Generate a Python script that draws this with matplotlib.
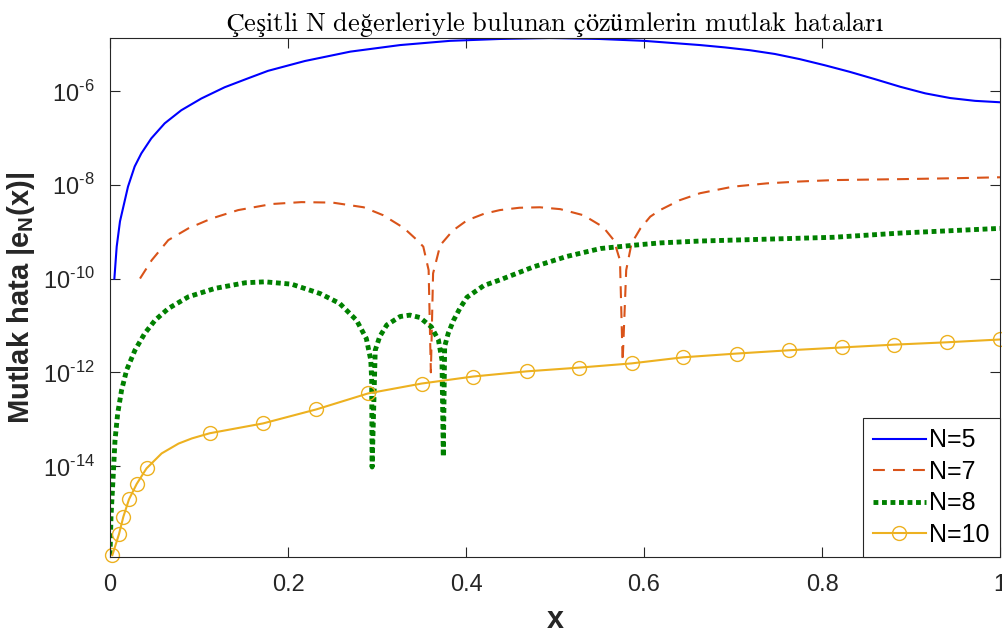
import numpy as np
import matplotlib
matplotlib.use('Agg')
import matplotlib.pyplot as plt
from matplotlib.lines import Line2D

plt.rcParams['font.family'] = ['Liberation Sans', 'DejaVu Sans']
plt.rcParams['mathtext.fontset'] = 'custom'
plt.rcParams['mathtext.rm'] = 'Liberation Sans'
plt.rcParams['mathtext.bf'] = 'Liberation Sans:bold'

# values (y given as log10 of the error)
n5_x = [0.0049, 0.0075, 0.0112, 0.0146, 0.0202, 0.0277, 0.0352, 0.0464, 0.0614,
        0.0801, 0.1026, 0.1288, 0.155, 0.1775, 0.219, 0.27, 0.326, 0.382, 0.438,
        0.494, 0.55, 0.60, 0.663, 0.691, 0.719, 0.747, 0.775, 0.803, 0.831,
        0.860, 0.888, 0.916, 0.944, 0.972, 1.0]
n5_log = [-10.0, -9.32, -8.78, -8.50, -8.04, -7.61, -7.33, -7.01, -6.69,
          -6.41, -6.16, -5.92, -5.73, -5.57, -5.36, -5.16, -5.02, -4.93, -4.89,
          -4.87, -4.89, -4.93, -5.02, -5.07, -5.13, -5.21, -5.32, -5.45, -5.59,
          -5.75, -5.91, -6.05, -6.15, -6.21, -6.24]

n7_x = [0.0337, 0.0468, 0.0655, 0.088, 0.114, 0.144, 0.182, 0.215, 0.25, 0.285,
        0.307, 0.33, 0.345, 0.352, 0.358, 0.3605,
        0.363, 0.371, 0.385, 0.401, 0.42, 0.438, 0.46, 0.483, 0.506, 0.532, 0.554,
        0.566, 0.573, 0.576,
        0.580, 0.586, 0.596, 0.607, 0.618, 0.64, 0.663, 0.70, 0.738, 0.775, 0.813,
        0.888, 0.95, 1.0]
n7_log = [-10.0, -9.61, -9.18, -8.93, -8.72, -8.54, -8.41, -8.37, -8.38, -8.48,
          -8.65, -8.92, -9.18, -9.32, -9.82, -12.0,
          -9.89, -9.29, -8.98, -8.76, -8.62, -8.54, -8.49, -8.48, -8.52, -8.65, -8.90,
          -9.18, -9.61, -11.77,
          -9.82, -9.25, -8.93, -8.68, -8.54, -8.33, -8.18, -8.04, -7.97, -7.93, -7.90,
          -7.88, -7.86, -7.84]

n8_x = [0.0, 0.0011, 0.0037, 0.0056, 0.0086, 0.013, 0.0187, 0.028, 0.039, 0.0506,
        0.0655, 0.088, 0.118, 0.152, 0.174, 0.204, 0.236, 0.258, 0.277, 0.288,
        0.293, 0.294, 0.2945,
        0.298, 0.303, 0.311, 0.326, 0.337, 0.348, 0.361, 0.369, 0.373, 0.3745,
        0.376, 0.380, 0.386, 0.393, 0.401, 0.42, 0.438, 0.476, 0.513, 0.551, 0.588,
        0.618, 0.663, 0.738, 0.813, 0.888, 1.0]
n8_log = [-15.9, -15.08, -14.16, -13.45, -12.88, -12.38, -11.95, -11.53, -11.17, -10.89,
          -10.64, -10.39, -10.21, -10.09, -10.07, -10.12, -10.32, -10.53, -10.89, -11.28,
          -11.74, -12.17, -14.02,
          -11.53, -11.24, -10.99, -10.81, -10.78, -10.83, -11.03, -11.31, -11.74, -13.80,
          -11.45, -11.17, -10.89, -10.64, -10.40, -10.15, -10.03, -9.75, -9.53, -9.36, -9.29,
          -9.24, -9.20, -9.16, -9.12, -9.03, -8.93]

n10_x = [0.0026, 0.0101, 0.015, 0.0213, 0.030, 0.041, 0.058, 0.077, 0.092, 0.112,
         0.172, 0.232, 0.29, 0.35, 0.408, 0.468, 0.527, 0.586, 0.644, 0.704,
         0.763, 0.822, 0.881, 0.940, 1.0]
n10_log = [-15.9, -15.45, -15.08, -14.71, -14.38, -14.05, -13.73, -13.52, -13.41, -13.30,
           -13.09, -12.79, -12.45, -12.24, -12.09, -11.98, -11.90, -11.81, -11.68, -11.60,
           -11.53, -11.47, -11.41, -11.36, -11.30]
n10_marks = [0, 1, 2, 3, 4, 5, 9, 10, 11, 12, 13, 14, 15, 16, 17, 18, 19, 20, 21, 22, 23, 24]

labels = ['N=5', 'N=7', 'N=8', 'N=10']
xticks = [0, 0.2, 0.4, 0.6, 0.8, 1]
xticklabels = ['0', '0.2', '0.4', '0.6', '0.8', '1']
ytick_exp = [-14, -12, -10, -8, -6]

c_blue = '#0000FF'
c_orange = '#D95319'
c_green = '#008000'
c_yellow = '#EDB120'
axc = '#262626'

fig = plt.figure(figsize=(10.02, 6.4), dpi=100)
ax = fig.add_axes([0.1098, 0.1297, 0.8882, 0.8109])

l5, = ax.plot(n5_x, np.power(10.0, n5_log), color=c_blue, lw=1.5)
l7, = ax.plot(n7_x, np.power(10.0, n7_log), color=c_orange, lw=1.5,
              linestyle=(0, (5.7, 3.9)))
l8, = ax.plot(n8_x, np.power(10.0, n8_log), color=c_green, lw=3.5,
              linestyle=(0, (1, 0.75)), dash_capstyle='butt')
ax.plot(n10_x, np.power(10.0, n10_log), color=c_yellow, lw=1.5, marker='o',
        markersize=10, markerfacecolor='none', markeredgewidth=1.0,
        markevery=n10_marks, clip_on=False)
l10 = Line2D([], [], color=c_yellow, lw=1.5, marker='o', markersize=10,
             markerfacecolor='none', markeredgewidth=1.0)

ax.set_yscale('log')
ax.set_xlim(0, 1)
ax.set_ylim(1.15e-16, 1.35e-5)
ax.set_xticks(xticks)
ax.set_xticklabels(xticklabels)
ax.set_yticks([10.0 ** e for e in ytick_exp])
ax.set_yticklabels(['$10^{\\text{-}%d}$' % -e for e in ytick_exp])
ax.minorticks_off()
ax.tick_params(direction='in', length=7, width=0.8, top=True, right=True,
               labelsize=17, colors=axc)
ax.tick_params(axis='x', pad=12)
ax.tick_params(axis='y', pad=11)
for s in ax.spines.values():
    s.set_color(axc)
    s.set_linewidth(0.8)

ax.set_xlabel('x', fontsize=22, fontweight='bold', color=axc, labelpad=7)
ax.set_ylabel('Mutlak hata |e$_\\mathbf{N}$(x)|', fontsize=21, fontweight='bold',
              color=axc, labelpad=4)
ax.set_title(r'$\mathrm{Çeşitli\ N\ değerleriyle\ bulunan\ çözümlerin\ mutlak\ hataları}$',
             fontsize=19, math_fontfamily='cm', color='black', pad=5)

leg = ax.legend([l5, l7, l8, l10], labels, loc='lower right', borderaxespad=0,
                fontsize=18, fancybox=False, edgecolor=axc, framealpha=1,
                handlelength=2.1, handletextpad=0.15, labelspacing=0.3,
                borderpad=0.4)
leg.get_frame().set_linewidth(0.8)

fig.savefig('out.png', dpi=100)
